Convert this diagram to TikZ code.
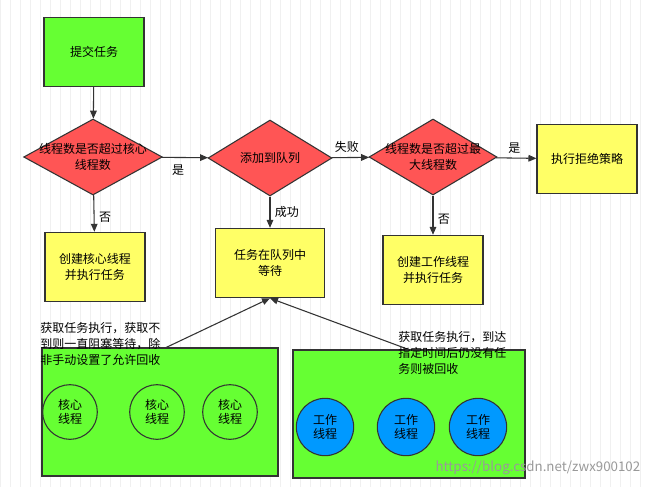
\documentclass[tikz,border=0pt]{standalone}
\usepackage{fontspec}
\setmainfont{Noto Sans CJK SC}
\usetikzlibrary{shapes.geometric,arrows.meta}
\definecolor{gr}{HTML}{66FF33}
\definecolor{rd}{HTML}{FF5555}
\definecolor{yl}{HTML}{FFFF66}
\definecolor{bl}{HTML}{0099FF}
\begin{document}
\begin{tikzpicture}[x=0.75pt,y=-0.75pt,
  box/.style={draw=black!80,thick,rectangle,minimum width=75pt,minimum height=52pt,align=center,font=\fontsize{9}{12}\selectfont},
  dia/.style={draw=black!80,thick,diamond,fill=rd,minimum width=#1,minimum height=57pt,inner sep=0pt},
  dtx/.style={align=center,font=\fontsize{9}{12}\selectfont},
  circ/.style={draw=black!80,thick,circle,minimum size=#1,inner sep=0pt,align=center,font=\fontsize{9}{11}\selectfont},
  arr/.style={draw=black!80,thick,-{Triangle[length=6pt,width=5pt]}},
  lab/.style={font=\fontsize{9}{12}\selectfont,align=left}]
\useasboundingbox (0,0) rectangle (647,487);
\fill[white] (0,0) rectangle (647,487);
\draw[black!6] (0,0) grid[step=10] (647,487);
\node[box,fill=gr] (s) at (94,52) {提交任务};
\node[dia=104pt] (d1) at (93,157) {};
\node[dtx] (t1) at (93,157) {线程数是否超过核心\\线程数};
\node[dia=93pt] (d2) at (270,158) {};
\node[dtx] (t2) at (270,158) {添加到队列};
\node[dia=96pt] (d3) at (433,157) {};
\node[dtx] (t3) at (433,157) {线程数是否超过最\\大线程数};
\node[box,fill=yl] (rj) at (587,159) {执行拒绝策略};
\node[box,fill=yl] (c1) at (95,267) {创建核心线程\\并执行任务};
\node[box,fill=yl,minimum width=82pt] (q) at (270,263) {任务在队列中\\等待};
\node[box,fill=yl] (c2) at (433,270) {创建工作线程\\并执行任务};
\node[draw=black!80,thick,fill=gr,minimum width=177pt,minimum height=96pt] (L) at (160,412) {};
\node[draw=black!80,thick,fill=gr,minimum width=174pt,minimum height=96pt] (R) at (409,414) {};
\foreach \n/\x in {a/70,b/157,c/230} \node[circ=41pt,fill=gr] (\n) at (\x,412) {核心\\线程};
\foreach \n/\x in {e/325,f/406,g/478} \node[circ=43pt,fill=bl] (\n) at (\x,427) {工作\\线程};
\draw[arr] (s) -- (d1);
\draw[arr] (d1) -- node[lab,below,pos=0.35,yshift=-2pt]{是} (d2);
\draw[arr] (d2) -- node[lab,above,pos=0.4]{失败} (d3);
\draw[arr] (d3) -- node[lab,above,pos=0.45]{是} (rj);
\draw[arr] (d1) -- node[lab,right,pos=0.6]{否} (c1);
\draw[arr] (d2) -- node[lab,right,pos=0.5]{成功} (q);
\draw[arr] (d3) -- node[lab,right,pos=0.6]{否} (c2);
\coordinate (lt) at (165,348);
\coordinate (rt) at (410,350);
\draw[arr] (lt) -- (q.south);
\draw[arr] (rt) -- (q.south);
\node[lab,anchor=north west,inner sep=0pt] at (40,322) {获取任务执行，获取不\\到则一直阻塞等待，除\\非手动设置了允许回收};
\node[lab,anchor=north west,inner sep=0pt] at (398,331) {获取任务执行，到达\\指定时间后仍没有任\\务则被回收};
\node[font=\fontsize{10}{12}\selectfont,text=black!40,anchor=south east] at (645,480) {https://blog.csdn.net/zwx900102};
\end{tikzpicture}
\end{document}
